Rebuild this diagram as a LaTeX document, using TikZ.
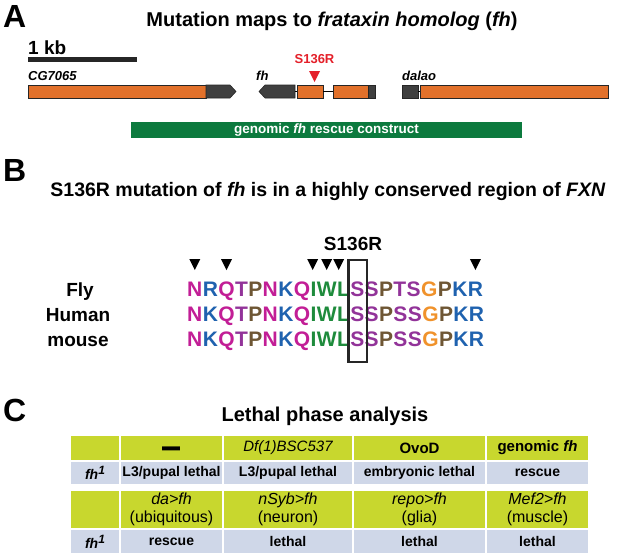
\documentclass[tikz,border=0pt]{standalone}
\usepackage{fontspec}
\setmainfont{Liberation Sans}
\usetikzlibrary{calc}
\definecolor{orng}{HTML}{E2712B}
\definecolor{dgray}{HTML}{3F3F3F}
\definecolor{cgreen}{HTML}{0C7A3E}
\definecolor{mred}{HTML}{E4202A}
\definecolor{tgreen}{HTML}{C8D72E}
\definecolor{tblue}{HTML}{CFD7E8}
\definecolor{smag}{HTML}{C21E96}
\definecolor{sblu}{HTML}{1F62AF}
\definecolor{spur}{HTML}{923399}
\definecolor{sbrn}{HTML}{6E5634}
\definecolor{sgrn}{HTML}{1E8B3C}
\definecolor{sorg}{HTML}{F0922B}
\newcommand{\fsz}[2]{\fontsize{#1}{#2}\selectfont}
\newcommand{\fhone}{\textit{fh}\raisebox{5pt}{\fsz{12}{14}\textit{1}}}
\newcommand{\seqrow}[3]{%
  \node[inner sep=0, anchor=base east] (#1-0) at (187,#2) {};
  \foreach \cl/\lt [count=\i, remember=\i as \j (initially 0)] in {#3} {
    \node[seqletter, text=\cl] (#1-\i) at (#1-\j.base east) {\lt};
  }%
}
\begin{document}
\begin{tikzpicture}[x=1pt, y=-1pt,
  every node/.style={inner sep=0},
  panellabel/.style={anchor=base west, font=\fsz{32}{36}\bfseries},
  ttl/.style={anchor=base, font=\fsz{20}{24}\bfseries},
  genelabel/.style={anchor=base west, font=\fsz{13}{15}\bfseries\itshape},
  orangebox/.style={fill=orng, draw=black!85, line width=0.6},
  darkbox/.style={fill=dgray, draw=black!85, line width=0.6},
  seqletter/.style={anchor=base west, font=\fsz{21}{24}\bfseries},
  species/.style={anchor=base, font=\fsz{19}{22}\bfseries},
  rowA/.style={fill=tgreen, minimum height=24, align=center, font=\fsz{15}{18}\bfseries},
  rowB/.style={fill=tblue, minimum height=22, align=center, font=\fsz{14}{17}\bfseries},
  rowC/.style={fill=tgreen, minimum height=37, align=center, font=\fsz{16}{18}},
  rowD/.style={fill=tblue, minimum height=23, align=center, font=\fsz{14}{17}\bfseries},
  colA/.style={minimum width=48},
  colB/.style={minimum width=101},
  colC/.style={minimum width=128},
  colD/.style={minimum width=131},
  colE/.style={minimum width=101}]
\fill[white] (0,0) rectangle (617,552);
\useasboundingbox (0,0) rectangle (617,552);

% ---------- Panel A ----------
\node[panellabel] (labA) at (3,27) {A};
\node[ttl] (titleA) at (332,26) {Mutation maps to \textit{frataxin homolog} (\textit{fh})};
\node[anchor=base west, font=\fsz{19}{22}\bfseries] (kb) at (28,54) {1 kb};
\coordinate (sbL) at (28,59.5);
\coordinate (sbR) at (137,59.5);
\draw[line width=4.5, black!85] (sbL) -- (sbR);

\node[genelabel] (gCG) at (28,80) {CG7065};
\node[genelabel] (gfh) at (256,80) {fh};
\node[genelabel] (gda) at (402,80) {dalao};

\filldraw[orangebox] (28,85) rectangle (206,98);
\filldraw[darkbox] (206,85) -- (230,85) -- (236,91.5) -- (230,98) -- (206,98) -- cycle;
\filldraw[darkbox] (259,91.5) -- (265,85) -- (295,85) -- (295,98) -- (265,98) -- cycle;
\draw[line width=0.6] (295,91.5) -- (297,91.5);
\filldraw[orangebox] (297,85) rectangle (323,98);
\draw[line width=0.8] (323,91.5) -- (333,91.5);
\filldraw[orangebox] (333,85) rectangle (368,98);
\filldraw[darkbox] (368,85) rectangle (375,98);
\filldraw[darkbox] (402,85) rectangle (418,98);
\draw[line width=0.8] (418,91.5) -- (420,91.5);
\filldraw[orangebox] (420,85) rectangle (608,98);

\node[anchor=base, text=mred, font=\fsz{13}{15}\bfseries] (mut) at (314.5,63) {S136R};
\fill[mred] (309,71) -- (320,71) -- (314.5,82) -- cycle;

\node[fill=cgreen, minimum width=391, minimum height=16, text=white,
      font=\fsz{13.5}{16}\bfseries] (rescue) at (326.5,130) {genomic \textit{fh} rescue construct};

% ---------- Panel B ----------
\node[panellabel] (labB) at (3,181) {B};
\node[ttl, font=\fsz{19.5}{24}\bfseries] (titleB) at (328,196) {S136R mutation of \textit{fh} is in a highly conserved region of \textit{FXN}};
\node[anchor=base, font=\fsz{19}{22}\bfseries] (s136) at (353,250) {S136R};

\node[species] (fly) at (80,296) {Fly};
\node[species] (human) at (78,321) {Human};
\node[species] (mouse) at (78,346) {mouse};

\seqrow{r1}{296}{smag/N,sblu/R,smag/Q,spur/T,sbrn/P,smag/N,sblu/K,smag/Q,sgrn/I,sgrn/W,sgrn/L,spur/S,spur/S,sbrn/P,spur/T,spur/S,sorg/G,sbrn/P,sblu/K,sblu/R}
\seqrow{r2}{321}{smag/N,sblu/K,smag/Q,spur/T,sbrn/P,smag/N,sblu/K,smag/Q,sgrn/I,sgrn/W,sgrn/L,spur/S,spur/S,sbrn/P,spur/S,spur/S,sorg/G,sbrn/P,sblu/K,sblu/R}
\seqrow{r3}{346}{smag/N,sblu/K,smag/Q,spur/T,sbrn/P,smag/N,sblu/K,smag/Q,sgrn/I,sgrn/W,sgrn/L,spur/S,spur/S,sbrn/P,spur/S,spur/S,sorg/G,sbrn/P,sblu/K,sblu/R}

\foreach \k/\dx in {1/0,3/0,10/-14,10/0,10/12,20/0} {
  \fill ($(r1-\k.base)+(\dx,0)+(-5.5,-37)$) -- ++(11,0) -- ++(-5.5,11) -- cycle;
}
\draw[line width=2.6, black!85] ($(r1-12.base west)+(-1.5,-36)$) rectangle ($(r3-12.base east)+(2.5,16)$);

% ---------- Panel C ----------
\node[panellabel] (labC) at (3,421) {C};
\node[ttl] (titleC) at (325,421) {Lethal phase analysis};

\node[rowA, colA] (a0) at (95,448) {};
\node[rowA, colB] (a1) at (171.5,448) {};
\node[anchor=base, font=\fsz{18}{20}\bfseries] (dash) at (171.5,459) {\scalebox{1}[2.2]{—}};
\node[rowA, colC] (a2) at (288,448) {\mdseries\itshape Df(1)BSC537};
\node[rowA, colD] (a3) at (419.5,448) {OvoD};
\node[rowA, colE] (a4) at (537.5,448) {genomic \textit{fh}};

\node[rowB, colA] (b0) at (95,473) {\fhone};
\node[rowB, colB] (b1) at (171.5,473) {L3/pupal lethal};
\node[rowB, colC] (b2) at (288,473) {L3/pupal lethal};
\node[rowB, colD] (b3) at (419.5,473) {embryonic lethal};
\node[rowB, colE] (b4) at (537.5,473) {rescue};

\node[rowC, colA] (c0) at (95,509.5) {};
\node[rowC, colB] (c1) at (171.5,509.5) {\textit{da>fh}\\(ubiquitous)};
\node[rowC, colC] (c2) at (288,509.5) {\textit{nSyb>fh}\\(neuron)};
\node[rowC, colD] (c3) at (419.5,509.5) {\textit{repo>fh}\\(glia)};
\node[rowC, colE] (c4) at (537.5,509.5) {\textit{Mef2>fh}\\(muscle)};

\node[rowD, colA] (d0) at (95,541.5) {\fhone};
\node[rowD, colB] (d1) at (171.5,541.5) {rescue};
\node[rowD, colC] (d2) at (288,541.5) {lethal};
\node[rowD, colD] (d3) at (419.5,541.5) {lethal};
\node[rowD, colE] (d4) at (537.5,541.5) {lethal};
\end{tikzpicture}
\end{document}
